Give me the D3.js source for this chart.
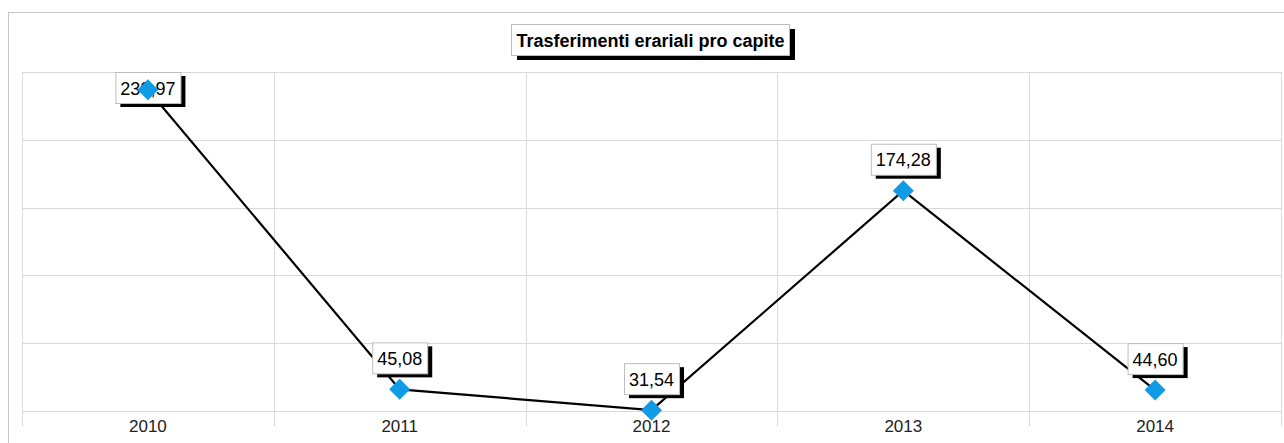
<!DOCTYPE html>
<html>
<head>
<meta charset="utf-8">
<script src="https://cdn.jsdelivr.net/npm/d3@7"></script>
<style>
  body { margin: 0; background: #fff; }
  text { font-family: "Liberation Sans", Arial, sans-serif; }
</style>
</head>
<body>
<svg id="chart" width="1284" height="443"></svg>
<script>
// data
var years = ["2010", "2011", "2012", "2013", "2014"];
var values = [239.97, 45.08, 31.54, 174.28, 44.60];
var yTicks = [31, 75.1, 119.2, 163.3, 207.4, 251.5];
var title = "Trasferimenti erariali pro capite";

var svg = d3.select('#chart');
var plot = {left: 22, right: 1281, top: 72, bottom: 411};

// outer frame
svg.append('rect')
    .attr('x', 8.5).attr('y', 12.5)
    .attr('width', 1290).attr('height', 440)
    .attr('fill', '#fff')
    .attr('stroke', '#c8c8c8');

var x = d3.scaleBand()
    .domain(years)
    .range([plot.left, plot.right]);

var y = d3.scaleLinear()
    .domain([yTicks[0], yTicks[yTicks.length - 1]])
    .range([plot.bottom, plot.top]);

// horizontal grid
svg.append('g')
    .selectAll('line')
    .data(yTicks)
    .enter()
    .append('line')
        .attr('x1', plot.left).attr('x2', plot.right)
        .attr('y1', function(d){ return Math.round(y(d)) + 0.5; })
        .attr('y2', function(d){ return Math.round(y(d)) + 0.5; })
        .attr('stroke', '#d9d9d9');

// vertical grid at category boundaries, running past the axis like tick marks
var bounds = years.map(function(d){ return x(d); }).concat([plot.right]);
svg.append('g')
    .selectAll('line')
    .data(bounds)
    .enter()
    .append('line')
        .attr('x1', function(d){ return Math.round(d) + 0.5; })
        .attr('x2', function(d){ return Math.round(d) + 0.5; })
        .attr('y1', plot.top)
        .attr('y2', 426)
        .attr('stroke', '#d9d9d9');

// axis labels
var xAxis = d3.axisBottom(x).tickSize(0).tickPadding(9);
var ax = svg.append('g')
    .attr('transform', 'translate(0,' + plot.bottom + ')')
    .call(xAxis);
ax.select('.domain').remove();
ax.selectAll('text')
    .style('font-size', '17px')
    .style('font-family', '"Liberation Sans", Arial, sans-serif')
    .attr('fill', '#222');

var cx = function(i){ return x(years[i]) + x.bandwidth() / 2; };

// the line
var line = d3.line()
    .x(function(d, i){ return cx(i); })
    .y(function(d){ return y(d); });

svg.append('path')
    .datum(values)
    .attr('d', line)
    .attr('fill', 'none')
    .attr('stroke', '#000')
    .attr('stroke-width', 2.2);

// data labels: white boxes with a black drop shadow
function fmt(v){ return d3.format('.2f')(v).replace('.', ','); }

var labels = svg.append('g');
values.forEach(function(v, i){
    var g = labels.append('g');
    var t = g.append('text')
        .text(fmt(v))
        .style('font-size', '18px')
        .attr('text-anchor', 'middle')
        .attr('fill', '#000');
    var w = t.node().getComputedTextLength() + 10;
    var h = 31;
    var top = Math.max(plot.top, y(v) - 16 - h);
    var left = cx(i) - w / 2;
    g.insert('rect', 'text')
        .attr('x', left + 5).attr('y', top + 4)
        .attr('width', w).attr('height', h)
        .attr('fill', '#000');
    g.insert('rect', 'text')
        .attr('x', left + 0.5).attr('y', top + 0.5)
        .attr('width', w).attr('height', h)
        .attr('fill', '#fff')
        .attr('stroke', '#bdbdbd');
    t.attr('x', cx(i)).attr('y', top + 22.5);
});

// diamond markers on top
svg.append('g')
    .selectAll('path')
    .data(values)
    .enter()
    .append('path')
        .attr('d', 'M0,-10.5L10.5,0L0,10.5L-10.5,0Z')
        .attr('transform', function(d, i){ return 'translate(' + cx(i) + ',' + y(d) + ')'; })
        .attr('fill', '#0f9be6');

// title box
var tg = svg.append('g');
tg.append('rect')
    .attr('x', 517).attr('y', 29)
    .attr('width', 278).attr('height', 31)
    .attr('fill', '#000');
tg.append('rect')
    .attr('x', 511.5).attr('y', 24.5)
    .attr('width', 278).attr('height', 31)
    .attr('fill', '#fff')
    .attr('stroke', '#bdbdbd');
tg.append('text')
    .attr('x', 650.5).attr('y', 46.5)
    .attr('text-anchor', 'middle')
    .style('font-size', '18px')
    .style('font-weight', 'bold')
    .text(title);
</script>
</body>
</html>
